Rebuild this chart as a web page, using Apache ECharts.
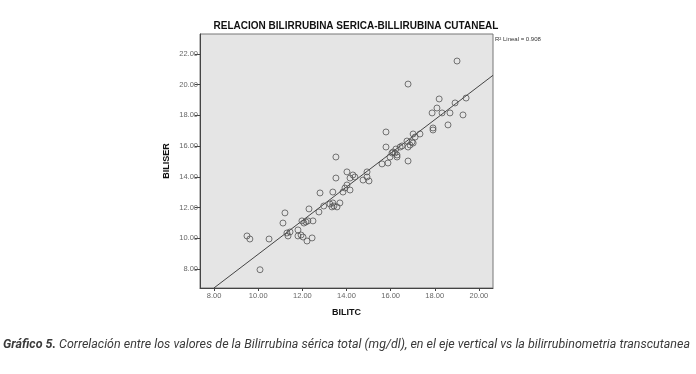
<!DOCTYPE html>
<html><head><meta charset="utf-8">
<script src="https://cdn.jsdelivr.net/npm/echarts@6/dist/echarts.min.js"></script>
<style>html,body{margin:0;padding:0;background:#fff;}#c{width:696px;height:374px;}</style>
</head><body><div id="c"></div>
<script>
const chartTitle = "RELACION BILIRRUBINA SERICA-BILLIRUBINA CUTANEAL";
const xName = "BILITC";
const yName = "BILISER";
const r2Label = "R\u00B2 Lineal = 0.908";
const caption = ["Gráfico 5.", " Correlación entre los valores de la Bilirrubina sérica total (mg/dl), en el eje vertical vs la bilirrubinometria transcutanea"];
const xTicks = [8, 10, 12, 14, 16, 18, 20];
const yTicks = [8, 10, 12, 14, 16, 18, 20, 22];
const bilitc = [9.49, 9.62, 10.08, 10.49, 11.21, 11.12, 11.30, 11.35, 11.44, 11.80, 11.80, 11.94, 12.03, 12.21, 12.44,
  11.98, 12.07, 12.16, 12.25, 12.48, 12.30, 12.75, 12.97, 13.25, 13.34, 13.43, 13.57, 13.38, 13.70, 12.80, 13.38,
  13.52, 13.52, 14.02, 14.29, 14.16, 14.38, 14.93, 14.93, 14.75, 15.02, 13.93, 13.84, 14.16, 14.02,
  15.79, 15.79, 15.61, 15.88, 15.97, 16.06, 16.11, 16.20, 16.29, 16.29, 16.24, 16.43, 16.52, 16.79,
  17.02, 17.11, 17.33, 16.97, 17.02, 16.79, 16.74, 19.01, 16.79, 18.20, 18.10, 18.92, 19.42, 17.88, 18.33,
  18.69, 19.28, 18.60, 17.92, 17.92, 16.88];
const biliser = [10.15, 9.95, 7.95, 9.95, 11.65, 10.99, 10.34, 10.15, 10.41, 10.54, 10.15, 10.21, 10.08, 9.82, 10.02,
  11.13, 10.99, 11.06, 11.13, 11.13, 11.91, 11.71, 12.10, 12.23, 12.04, 12.10, 12.04, 12.30, 12.30, 12.95, 13.01,
  15.29, 13.92, 14.32, 14.12, 13.92, 13.99, 14.32, 13.99, 13.79, 13.73, 13.27, 13.01, 13.14, 13.47,
  16.92, 15.94, 14.84, 14.90, 15.29, 15.55, 15.62, 15.55, 15.42, 15.29, 15.81, 15.94, 16.01, 15.03,
  16.79, 16.59, 16.79, 16.27, 16.20, 15.94, 16.33, 21.54, 20.04, 19.07, 18.48, 18.81, 19.13, 18.16, 18.16,
  18.16, 18.03, 17.38, 17.18, 17.05, 16.07];
const fitSlope = 1.095;
const fitIntercept = -1.99;
const xMin = 7.36, xMax = 20.64, yMin = 6.76, yMax = 23.3;

const points = bilitc.map((x, i) => [x, biliser[i]]);
const xStart = (yMin - fitIntercept) / fitSlope;
const fitLine = [[xStart, fitIntercept + fitSlope * xStart], [xMax, fitIntercept + fitSlope * xMax]];

const cv = document.createElement('canvas').getContext('2d');
cv.font = 'italic bold 12px Roboto';
const w1 = cv.measureText(caption[0]).width;
cv.font = 'italic 12px Roboto';
const w2 = cv.measureText(caption[1]).width;
const capScale = 687 / (w1 + w2);

const chart = echarts.init(document.getElementById('c'), null, {renderer: 'canvas'});
chart.setOption({
  animation: false,
  backgroundColor: '#ffffff',
  title: {
    text: chartTitle, left: 351, top: 16, textAlign: 'center',
    textStyle: {fontFamily: 'Liberation Sans', fontSize: 10, fontWeight: 'bold', color: '#111'}
  },
  grid: {left: 200, top: 34, width: 293, height: 254, show: true, backgroundColor: '#e5e5e5', borderColor: '#777', borderWidth: 1},
  xAxis: {
    type: 'value', min: xMin, max: xMax,
    name: xName, nameLocation: 'middle', nameGap: 20,
    nameTextStyle: {fontFamily: 'Liberation Sans', fontSize: 9, fontWeight: 'bold', color: '#111'},
    axisLine: {show: true, onZero: false, lineStyle: {color: '#444', width: 1}},
    axisTick: {show: true, inside: false, length: 3, customValues: xTicks, lineStyle: {color: '#444'}},
    axisLabel: {customValues: xTicks, formatter: v => v.toFixed(2), fontFamily: 'Liberation Sans', fontSize: 7.5, color: '#666', margin: 4},
    splitLine: {show: false}
  },
  yAxis: {
    type: 'value', min: yMin, max: yMax,
    name: yName, nameLocation: 'middle', nameGap: 29, nameRotate: 90,
    nameTextStyle: {fontFamily: 'Liberation Sans', fontSize: 9, fontWeight: 'bold', color: '#111'},
    axisLine: {show: true, onZero: false, lineStyle: {color: '#444', width: 1}},
    axisTick: {show: true, inside: false, length: 5, customValues: yTicks, lineStyle: {color: '#444'}},
    axisLabel: {customValues: yTicks, formatter: v => v.toFixed(2), fontFamily: 'Liberation Sans', fontSize: 7.5, color: '#666', margin: 2},
    splitLine: {show: false}
  },
  graphic: [
    {type: 'text', left: 495, top: 36, style: {text: r2Label, font: '6px "Liberation Sans"', fill: '#333'}},
    {type: 'group', left: 3, top: 339, scaleX: capScale, children: [
      {type: 'text', x: 0, y: 0, style: {text: caption[0], font: 'italic bold 12px Roboto', fill: '#3a3a3a'}},
      {type: 'text', x: w1, y: 0, style: {text: caption[1], font: 'italic 12px Roboto', fill: '#3a3a3a'}}
    ]}
  ],
  series: [
    {type: 'line', data: fitLine, symbol: 'none', lineStyle: {color: '#444', width: 1}, silent: true, z: 2},
    {type: 'scatter', data: points, symbol: 'circle', symbolSize: 6,
     itemStyle: {color: 'rgba(0,0,0,0)', borderColor: '#555', borderWidth: 1}, z: 3}
  ]
});
</script></body></html>
